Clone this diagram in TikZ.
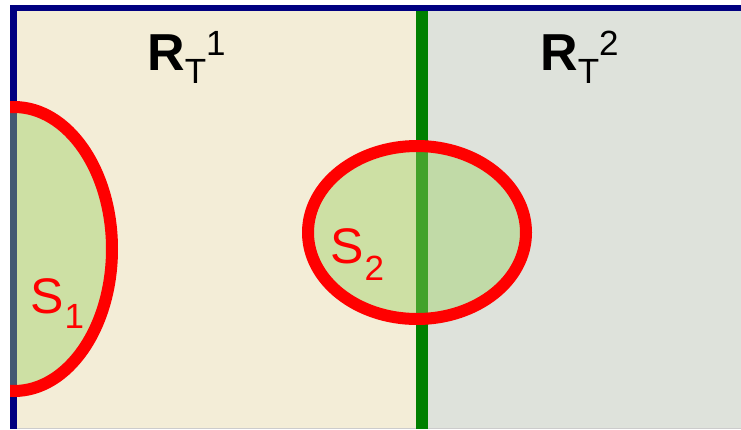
\documentclass[tikz,border=0pt]{standalone}
\usepackage{fontspec}
\setmainfont{Liberation Sans}
\usepackage{tikz}
\definecolor{cream}{RGB}{243,237,215}
\definecolor{greyback}{RGB}{222,226,219}
\definecolor{navyline}{RGB}{0,0,128}
\definecolor{darkgreen}{RGB}{0,128,0}
\definecolor{setfill}{RGB}{155,208,99}
\newcommand{\RTlabel}[1]{{\fontsize{52}{52}\selectfont\bfseries R}\raisebox{-13pt}{\fontsize{35}{35}\selectfont T}\raisebox{15pt}{\fontsize{35}{35}\selectfont #1}}
\newcommand{\Slabel}[2]{{\fontsize{50}{50}\selectfont S}\hspace{1pt}\raisebox{-#2pt}{\fontsize{35}{35}\selectfont #1}}

\begin{document}
\begin{tikzpicture}[
  x=1pt, y=-1pt,
  setline/.style={draw=red, line width=12pt},
  setarea/.style={fill=setfill, fill opacity=0.43},
  regionlabel/.style={anchor=base west, inner sep=0pt, text=black},
  setlabel/.style={anchor=base west, inner sep=0pt, text=red}
]
\useasboundingbox (0,0) rectangle (741,429);

\fill[cream] (17,11) rectangle (416,429);
\fill[greyback] (428,11) rectangle (741,429);
\draw[black!20, line width=1pt] (17,428.5) -- (741,428.5);

\fill[navyline] (10,5) rectangle (741,11);
\fill[navyline] (10,5) rectangle (17,429);
\fill[darkgreen] (416,11) rectangle (428,429);

\begin{scope}
  \clip (10,0) rectangle (741,429);
  \fill[setarea] (14,249) ellipse [x radius=98, y radius=142];
  \draw[setline] (14,249) ellipse [x radius=98, y radius=142];
\end{scope}

\fill[setarea] (417,232.5) ellipse [x radius=109, y radius=86.5];
\draw[setline] (417,232.5) ellipse [x radius=109, y radius=86.5];

\node[regionlabel] (r1) at (147,70) {\RTlabel{1}};
\node[regionlabel] (r2) at (540,70) {\RTlabel{2}};
\node[setlabel] (s1) at (30,313) {\Slabel{1}{15}};
\node[setlabel] (s2) at (330,263) {\Slabel{2}{17}};

\end{tikzpicture}
\end{document}
